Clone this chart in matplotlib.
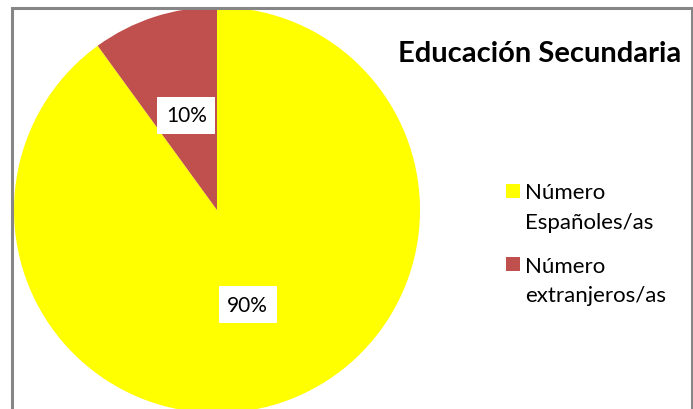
import matplotlib.pyplot as plt
from matplotlib.patches import Rectangle
from matplotlib.legend_handler import HandlerPatch

# dados do gráfico
categorias = ['Número\nEspañoles/as', 'Número\nextranjeros/as']
porcentagens = [90, 10]
cores = ['#FFFF00', '#C0504D']
titulo = 'Educación Secundaria'

plt.rcParams['font.family'] = ['Lato', 'DejaVu Sans']

largura, altura = 693, 410
fig = plt.figure(figsize=(largura / 100, altura / 100), dpi=100)
ax = fig.add_axes([0, 0, 1, 1])

# centro e raio da pizza em pixels (a partir do canto superior esquerdo)
cx, cy, raio = 217, 211, 203

fatias, _, rotulos = ax.pie(porcentagens, colors=cores, startangle=90, counterclock=False,
                            autopct='%.0f%%', pctdistance=0.49,
                            wedgeprops={'linewidth': 0})
for rotulo in rotulos:
    rotulo.set_fontsize(15)
    rotulo.set_color('black')
    rotulo.set_bbox({'boxstyle': 'square,pad=0.42', 'facecolor': 'white', 'edgecolor': 'none'})

ax.set_aspect('auto')
ax.set_xlim(-cx / raio, (largura - cx) / raio)
ax.set_ylim((cy - altura) / raio, cy / raio)
ax.axis('off')

fig.text(540 / largura, 1 - 62 / altura, titulo, ha='center', va='baseline',
         fontweight='bold', fontsize=21)

tam_fonte = 16
espaco_linhas = 1.6
lado = 10  # lado do quadrado da legenda, em pontos


def quadrado_primeira_linha(legend, orig_handle, xdescent, ydescent, width, height, fontsize):
    # sobe o quadrado para ficar alinhado com a primeira linha do rótulo
    subida = 11.8
    return Rectangle((-xdescent, -ydescent + (height - lado) / 2 + subida), lado, lado)


leg = ax.legend(fatias, categorias, loc='upper left', bbox_to_anchor=(506 / largura, 1 - 183 / altura),
                bbox_transform=fig.transFigure, frameon=False, fontsize=tam_fonte,
                borderpad=0, borderaxespad=0,
                handlelength=lado / tam_fonte, handleheight=0.7, handletextpad=0.25, labelspacing=1.08,
                handler_map={fatias[0]: HandlerPatch(patch_func=quadrado_primeira_linha),
                             fatias[1]: HandlerPatch(patch_func=quadrado_primeira_linha)})
for t in leg.get_texts():
    t.set_linespacing(espaco_linhas)

# moldura cinza
fig.patches.append(Rectangle((12.5 / largura, -0.1), (691.5 - 12.5) / largura, (altura - 8.5) / altura + 0.1,
                             transform=fig.transFigure, fill=False, edgecolor='#868686', linewidth=2.2))

fig.savefig('out.png', dpi=100)
